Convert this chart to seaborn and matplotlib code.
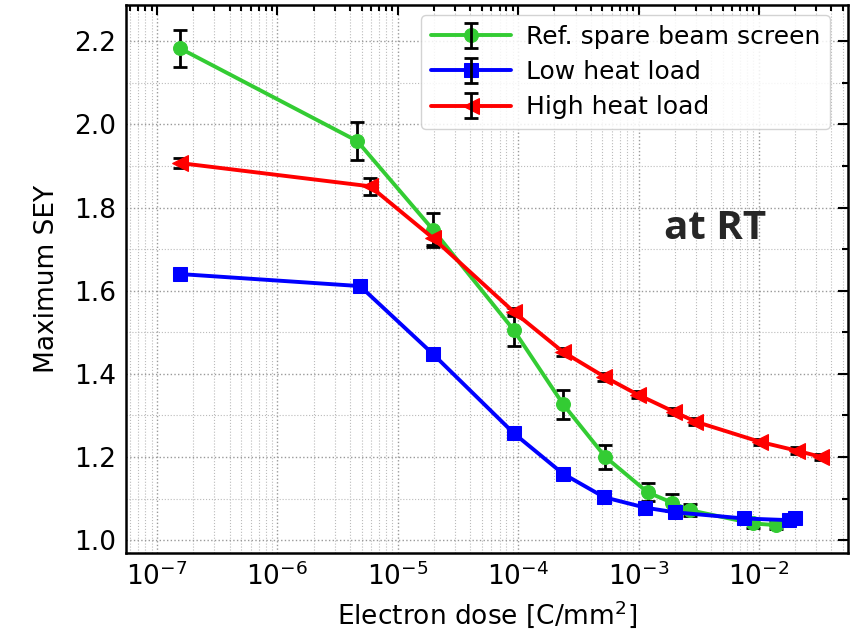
import numpy as np
import pandas as pd
import matplotlib
matplotlib.use("Agg")
import matplotlib.pyplot as plt
import seaborn as sns
from matplotlib.ticker import MultipleLocator, LogLocator, NullFormatter
from matplotlib.legend_handler import HandlerTuple

# ---- data ----
dose_ref = [1.55e-7, 4.6e-6, 1.97e-5, 9.2e-5, 2.36e-4, 5.3e-4, 1.19e-3, 1.9e-3, 2.66e-3, 8.95e-3, 1.4e-2]
sey_ref = [2.183, 1.960, 1.746, 1.505, 1.327, 1.200, 1.115, 1.090, 1.072, 1.040, 1.036]
err_ref = [0.045, 0.045, 0.040, 0.039, 0.035, 0.028, 0.022, 0.020, 0.015, 0.010, 0.010]

dose_low = [1.55e-7, 4.86e-6, 1.97e-5, 9.2e-5, 2.35e-4, 5.2e-4, 1.14e-3, 1.99e-3, 7.56e-3, 1.77e-2, 2.01e-2]
sey_low = [1.640, 1.611, 1.447, 1.257, 1.160, 1.103, 1.078, 1.067, 1.052, 1.048, 1.054]
err_low = [0.008, 0.008, 0.008, 0.008, 0.008, 0.008, 0.008, 0.008, 0.008, 0.008, 0.008]

dose_high = [1.55e-7, 5.9e-6, 1.97e-5, 9.2e-5, 2.35e-4, 5.2e-4, 9.85e-4, 1.96e-3, 2.97e-3, 1.03e-2, 2.07e-2, 3.29e-2]
sey_high = [1.907, 1.851, 1.726, 1.549, 1.453, 1.393, 1.350, 1.309, 1.285, 1.236, 1.215, 1.200]
err_high = [0.012, 0.020, 0.015, 0.010, 0.010, 0.010, 0.008, 0.008, 0.008, 0.008, 0.008, 0.008]

series = [
    ("Ref. spare beam screen", dose_ref, sey_ref, err_ref, "#33cc33", "o", 10),
    ("Low heat load", dose_low, sey_low, err_low, "#0000ff", "s", 10),
    ("High heat load", dose_high, sey_high, err_high, "#ff0000", "<", 11),
]

sns.set_theme(style="white")
plt.rcParams["font.family"] = ["DejaVu Sans"]
plt.rcParams["xtick.direction"] = "in"
plt.rcParams["ytick.direction"] = "in"
for k in ["text.color", "axes.labelcolor", "xtick.color", "ytick.color"]:
    plt.rcParams[k] = "black"

fig = plt.figure(figsize=(8.54, 6.33), dpi=100)
ax = fig.add_axes([0.1475, 0.1264, 0.8455, 0.8656])

handles = []
for name, x, y, e, col, mk, ms in series:
    eb = ax.errorbar(x, y, yerr=e, fmt="none", ecolor="black", elinewidth=2,
                     capsize=5, capthick=2, zorder=2)
    df = pd.DataFrame({"dose": x, "sey": y})
    sns.lineplot(data=df, x="dose", y="sey", ax=ax, color=col, marker=mk,
                 markersize=ms, markeredgecolor=col, linewidth=2.8,
                 estimator=None, sort=False, zorder=3)
    ln = ax.lines[-1]
    handles.append(((ln, eb), name))

ax.set_xscale("log")
ax.set_xlim(5.52e-8, 5.5e-2)
ax.set_ylim(0.969, 2.287)

ax.yaxis.set_major_locator(MultipleLocator(0.2))
ax.yaxis.set_minor_locator(MultipleLocator(0.1))
ax.xaxis.set_major_locator(LogLocator(base=10, numticks=20))
ax.xaxis.set_minor_locator(LogLocator(base=10, subs=np.arange(2, 10), numticks=20))
ax.xaxis.set_minor_formatter(NullFormatter())

ax.grid(True, which="major", linestyle=":", color="#999999", linewidth=1.0)
ax.grid(True, which="minor", linestyle=":", color="#bbbbbb", linewidth=0.8)

ax.tick_params(which="both", top=True, right=True, labelsize=19, width=1.5)
ax.tick_params(which="major", length=7, pad=7)
ax.tick_params(which="minor", length=4)
for sp in ax.spines.values():
    sp.set_linewidth(1.8)
    sp.set_color("black")

ax.set_xlabel("Electron dose [C/mm$^2$]", fontsize=19, labelpad=5)
ax.set_ylabel("Maximum SEY", fontsize=19, labelpad=10)

leg = ax.legend([h for h, _ in handles], [n for _, n in handles],
                handler_map={tuple: HandlerTuple(ndivide=1, pad=0)},
                loc="upper right", bbox_to_anchor=(0.975, 0.982),
                borderaxespad=0, fontsize=18,
                frameon=True, fancybox=True, framealpha=0.85,
                edgecolor="#cccccc", handlelength=3.2, borderpad=0.4,
                labelspacing=0.45, handletextpad=0.6)

ax.text(4.3e-3, 1.75, "at RT", fontsize=29, fontweight="bold",
        family=["Open Sans", "DejaVu Sans"], color="#262626",
        ha="center", va="center")

fig.savefig("out.png", dpi=100)
